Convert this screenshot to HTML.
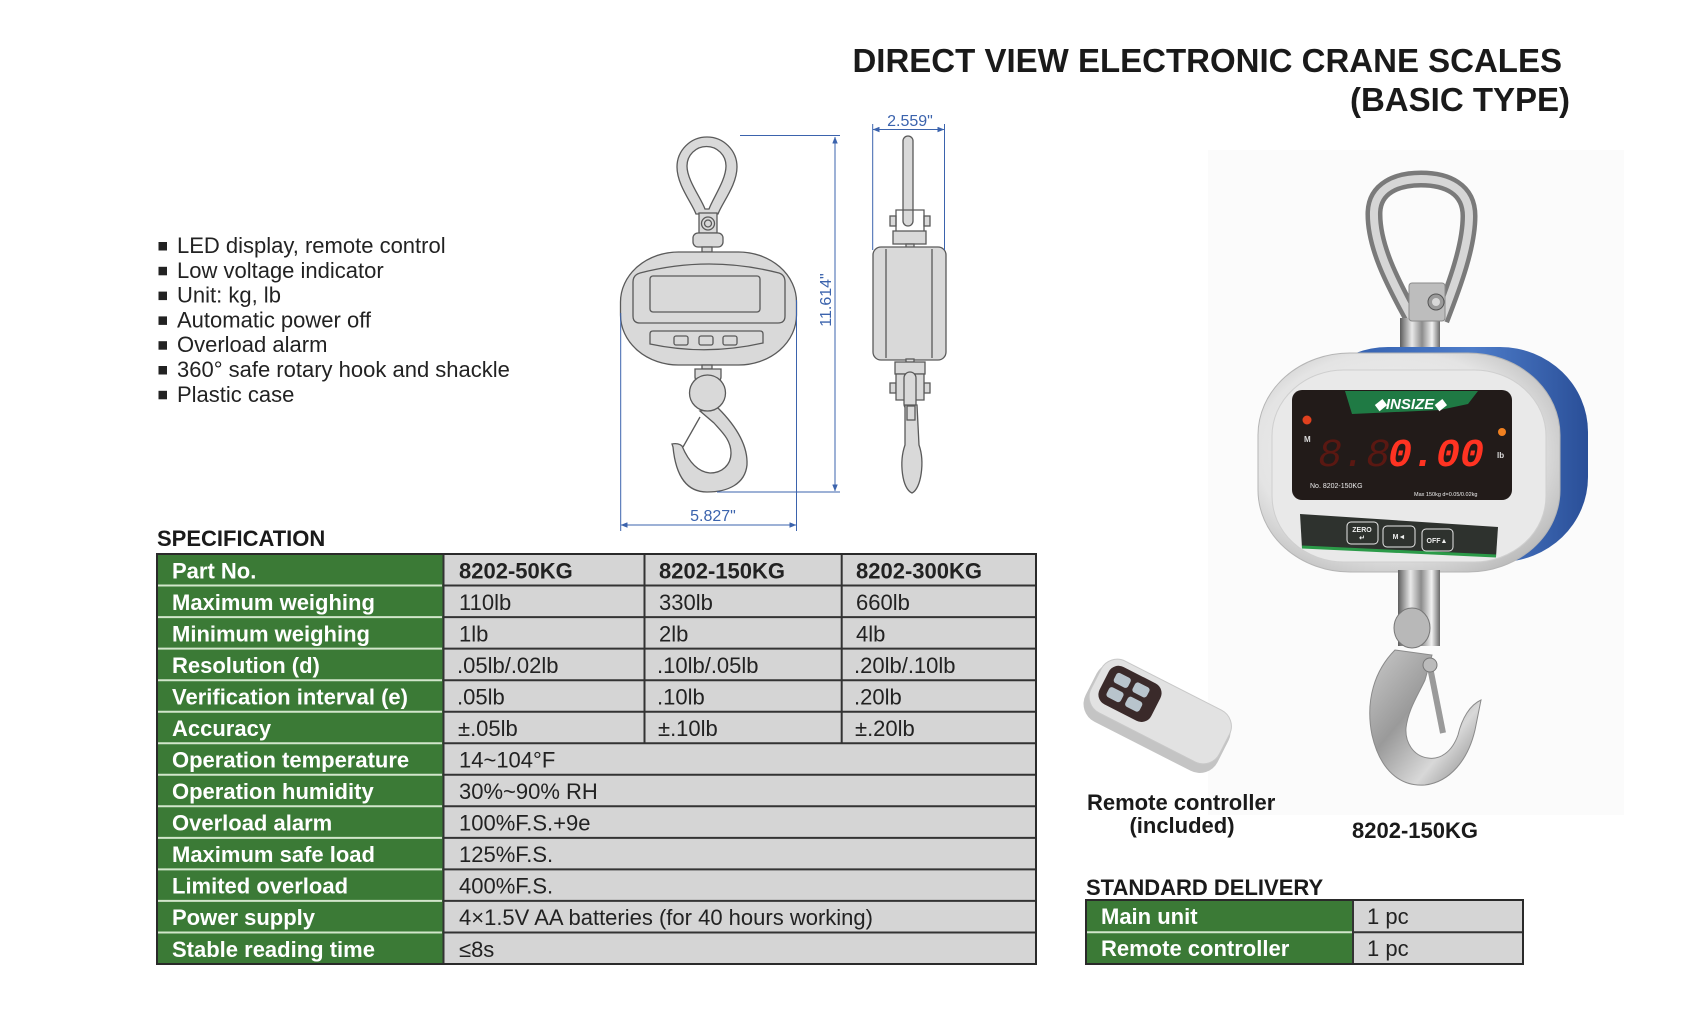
<!DOCTYPE html>
<html><head><meta charset="utf-8"><style>
html,body{margin:0;padding:0;background:#fff;}
svg{display:block;font-family:"Liberation Sans",Arial,sans-serif;}
</style></head><body>
<svg width="1701" height="1020" viewBox="0 0 1701 1020" xmlns="http://www.w3.org/2000/svg">
<defs>
<marker id="ar" viewBox="0 0 10 8" refX="9.5" refY="4" markerWidth="7" markerHeight="5.5" orient="auto-start-reverse" markerUnits="userSpaceOnUse"><path d="M0,0 L10,4 L0,8 Z" fill="#3b63ad"/></marker>
<linearGradient id="chrome" x1="0" y1="0" x2="1" y2="0"><stop offset="0" stop-color="#5d5d5d"/><stop offset=".3" stop-color="#e9e9e9"/><stop offset=".55" stop-color="#8c8c8c"/><stop offset=".8" stop-color="#f2f2f2"/><stop offset="1" stop-color="#6a6a6a"/></linearGradient>
<linearGradient id="blue" x1="0" y1="0" x2="1" y2="0"><stop offset="0" stop-color="#2a56a6"/><stop offset=".6" stop-color="#4d7cc9"/><stop offset="1" stop-color="#2a4f98"/></linearGradient>
<radialGradient id="face" cx=".45" cy=".45" r=".65"><stop offset="0" stop-color="#f5f5f5"/><stop offset=".7" stop-color="#e4e4e4"/><stop offset="1" stop-color="#b9b9b9"/></radialGradient>
<linearGradient id="hookg" x1="0" y1="0" x2="1" y2="1"><stop offset="0" stop-color="#c9c9c9"/><stop offset=".4" stop-color="#9a9a9a"/><stop offset=".7" stop-color="#d8d8d8"/><stop offset="1" stop-color="#7d7d7d"/></linearGradient>
</defs>

<!-- Title -->
<text x="1562" y="72" text-anchor="end" font-size="33" font-weight="bold" fill="#1a1a1a">DIRECT VIEW ELECTRONIC CRANE SCALES</text>
<text x="1570" y="111" text-anchor="end" font-size="33" font-weight="bold" fill="#1a1a1a">(BASIC TYPE)</text>

<!-- Bullets -->
<g font-size="22" fill="#222">
<rect x="158.5" y="242" width="8.5" height="8.5" fill="#222"/><text x="177" y="253">LED display, remote control</text>
<rect x="158.5" y="266.8" width="8.5" height="8.5" fill="#222"/><text x="177" y="277.8">Low voltage indicator</text>
<rect x="158.5" y="291.6" width="8.5" height="8.5" fill="#222"/><text x="177" y="302.6">Unit: kg, lb</text>
<rect x="158.5" y="316.4" width="8.5" height="8.5" fill="#222"/><text x="177" y="327.4">Automatic power off</text>
<rect x="158.5" y="341.2" width="8.5" height="8.5" fill="#222"/><text x="177" y="352.2">Overload alarm</text>
<rect x="158.5" y="366" width="8.5" height="8.5" fill="#222"/><text x="177" y="377">360° safe rotary hook and shackle</text>
<rect x="158.5" y="390.8" width="8.5" height="8.5" fill="#222"/><text x="177" y="401.8">Plastic case</text>
</g>

<!-- Front view drawing -->
<g fill="#d9d9d9" stroke="#5a5a5a" stroke-width="1.3">
<path fill-rule="evenodd" d="M677,167 A30,30 0 0 1 737,167 C737,185 722,203 718,214 L696,214 C692,203 677,185 677,167 Z M687,166 A19.5,19.5 0 0 1 726,166 C726,180 713,198 709,209 L705,209 C701,198 687,180 687,166 Z"/>
<rect x="699" y="213" width="18" height="20"/>
<circle cx="708" cy="223.5" r="6.5"/><circle cx="708" cy="223.5" r="3.5"/>
<rect x="693" y="233" width="30" height="14" rx="5"/>
<rect x="702" y="247" width="10" height="5"/>
<rect x="620.5" y="252" width="176" height="113" rx="58" ry="50"/>
<path d="M640,273 Q709,255 779,273 Q785,275 785,282 L785,316 Q785,323 778,323 L640,323 Q633,323 633,316 L633,282 Q633,275 640,273 Z"/>
<rect x="650" y="276" width="110" height="36" rx="3"/>
<path d="M650,334 Q650,331 653,331 L760,331 Q763,331 763,334 L763,343 Q706,356 650,344 Z"/>
<rect x="674" y="336" width="14" height="9" rx="2"/><rect x="699" y="336" width="14" height="9" rx="2"/><rect x="723" y="336" width="14" height="9" rx="2"/>
<rect x="702" y="365" width="10" height="4"/>
<path d="M695,369 L721,369 L721,377 Q721,381 716,381 L700,381 Q695,381 695,377 Z"/>
<path d="M718,408 C735,425 748,445 747,465 C745,484 728,492 707,492 C688,492 676,478 673,447 L672,444 C676,443 680,444 682,446 C688,460 697,472 710,473 C722,473 731,465 731,453 C731,440 722,432 714,423 L700,411 Z"/>
<circle cx="707.5" cy="393" r="18"/>
<line x1="700" y1="417" x2="683" y2="447"/>
</g>

<!-- Side view drawing -->
<g fill="#d9d9d9" stroke="#5a5a5a" stroke-width="1.3">
<rect x="903" y="136" width="10" height="90" rx="5"/>
<rect x="890" y="216" width="6" height="10"/><rect x="924" y="216" width="6" height="10"/>
<path d="M896,210 L924,210 L924,232 L896,232 Z" fill="none"/>
<rect x="893" y="231" width="33" height="13"/>
<rect x="906" y="244" width="8" height="4"/>
<rect x="873" y="247" width="73" height="113" rx="8"/>
<line x1="886" y1="249" x2="886" y2="358"/><line x1="932" y1="249" x2="932" y2="358"/>
<rect x="906" y="359" width="8" height="4"/>
<rect x="895" y="362" width="30" height="12"/>
<rect x="890" y="383" width="6" height="10"/><rect x="924" y="383" width="6" height="10"/>
<path d="M896,374 L924,374 L924,400 L896,400 Z"/>
<rect x="904" y="372" width="12" height="38" rx="6"/>
<path d="M905,405 L917,405 L919,445 C925,462 921,489 912,493 C902,489 899,462 905,445 Z"/>
<rect x="907" y="406" width="8" height="14" fill="none"/>
</g>

<!-- Dimensions -->
<g stroke="#3b63ad" stroke-width="1" fill="none">
<line x1="740" y1="135.5" x2="840" y2="135.5"/>
<line x1="717" y1="492" x2="840" y2="492"/>
<line x1="835" y1="137" x2="835" y2="491" marker-start="url(#ar)" marker-end="url(#ar)"/>
<line x1="620.7" y1="313" x2="620.7" y2="531"/>
<line x1="796.5" y1="300" x2="796.5" y2="531"/>
<line x1="621" y1="525" x2="796" y2="525" marker-start="url(#ar)" marker-end="url(#ar)"/>
<line x1="872.7" y1="124" x2="872.7" y2="250"/>
<line x1="944.5" y1="124" x2="944.5" y2="250"/>
<line x1="873" y1="129.5" x2="944" y2="129.5" marker-start="url(#ar)" marker-end="url(#ar)"/>
</g>
<g fill="#3b63ad" font-size="16">
<text x="910" y="126" text-anchor="middle">2.559"</text>
<text x="713" y="521" text-anchor="middle">5.827"</text>
<text x="831" y="300" text-anchor="middle" transform="rotate(-90 831 300)">11.614"</text>
</g>

<!-- SPECIFICATION -->
<text x="157" y="546" font-size="22" font-weight="bold" fill="#1a1a1a">SPECIFICATION</text>
<rect x="443" y="554" width="593" height="410" fill="#d5d5d5"/>
<rect x="157" y="554" width="286" height="410" fill="#3b7a36"/>
<g stroke="#d2e6cb" stroke-width="2">
<line x1="158" y1="585.5" x2="442" y2="585.5"/><line x1="158" y1="617.1" x2="442" y2="617.1"/><line x1="158" y1="648.6" x2="442" y2="648.6"/><line x1="158" y1="680.2" x2="442" y2="680.2"/><line x1="158" y1="711.7" x2="442" y2="711.7"/><line x1="158" y1="743.2" x2="442" y2="743.2"/><line x1="158" y1="774.8" x2="442" y2="774.8"/><line x1="158" y1="806.3" x2="442" y2="806.3"/><line x1="158" y1="837.9" x2="442" y2="837.9"/><line x1="158" y1="869.4" x2="442" y2="869.4"/><line x1="158" y1="900.9" x2="442" y2="900.9"/><line x1="158" y1="932.5" x2="442" y2="932.5"/>
</g>
<g stroke="#333" stroke-width="2">
<line x1="443" y1="585.5" x2="1036" y2="585.5"/><line x1="443" y1="617.1" x2="1036" y2="617.1"/><line x1="443" y1="648.6" x2="1036" y2="648.6"/><line x1="443" y1="680.2" x2="1036" y2="680.2"/><line x1="443" y1="711.7" x2="1036" y2="711.7"/><line x1="443" y1="743.2" x2="1036" y2="743.2"/><line x1="443" y1="774.8" x2="1036" y2="774.8"/><line x1="443" y1="806.3" x2="1036" y2="806.3"/><line x1="443" y1="837.9" x2="1036" y2="837.9"/><line x1="443" y1="869.4" x2="1036" y2="869.4"/><line x1="443" y1="900.9" x2="1036" y2="900.9"/><line x1="443" y1="932.5" x2="1036" y2="932.5"/>
<line x1="443.5" y1="554" x2="443.5" y2="964"/>
<line x1="644.5" y1="554" x2="644.5" y2="743.2"/>
<line x1="841.7" y1="554" x2="841.7" y2="743.2"/>
</g>
<rect x="157" y="554" width="879" height="410" fill="none" stroke="#2a2a2a" stroke-width="2"/>
<g font-size="22" font-weight="bold" fill="#fff">
<text x="172" y="578.3">Part No.</text>
<text x="172" y="609.8">Maximum weighing</text>
<text x="172" y="641.4">Minimum weighing</text>
<text x="172" y="672.9">Resolution (d)</text>
<text x="172" y="704.5">Verification interval (e)</text>
<text x="172" y="736">Accuracy</text>
<text x="172" y="767.5">Operation temperature</text>
<text x="172" y="799.1">Operation humidity</text>
<text x="172" y="830.6">Overload alarm</text>
<text x="172" y="862.2">Maximum safe load</text>
<text x="172" y="893.7">Limited overload</text>
<text x="172" y="925.2">Power supply</text>
<text x="172" y="956.8">Stable reading time</text>
</g>
<g font-size="22" fill="#222">
<text x="459" y="578.3" font-weight="bold">8202-50KG</text>
<text x="659" y="578.3" font-weight="bold">8202-150KG</text>
<text x="856" y="578.3" font-weight="bold">8202-300KG</text>
<text x="459" y="609.8">110lb</text><text x="659" y="609.8">330lb</text><text x="856" y="609.8">660lb</text>
<text x="459" y="641.4">1lb</text><text x="659" y="641.4">2lb</text><text x="856" y="641.4">4lb</text>
<text x="457" y="672.9">.05lb/.02lb</text><text x="657" y="672.9">.10lb/.05lb</text><text x="854" y="672.9">.20lb/.10lb</text>
<text x="457" y="704.5">.05lb</text><text x="657" y="704.5">.10lb</text><text x="854" y="704.5">.20lb</text>
<text x="458" y="736">±.05lb</text><text x="658" y="736">±.10lb</text><text x="855" y="736">±.20lb</text>
<text x="459" y="767.5">14~104°F</text>
<text x="459" y="799.1">30%~90% RH</text>
<text x="459" y="830.6">100%F.S.+9e</text>
<text x="459" y="862.2">125%F.S.</text>
<text x="459" y="893.7">400%F.S.</text>
<text x="459" y="925.2">4×1.5V AA batteries (for 40 hours working)</text>
<text x="459" y="956.8">≤8s</text>
</g>

<!-- Photo background -->
<rect x="1208" y="150" width="416" height="665" fill="#fbfbfb"/>

<!-- Crane scale photo -->
<path d="M1413,320 C1392,282 1373,245 1374,212 C1375,188 1397,179 1421,179 C1447,179 1469,189 1469,216 C1469,246 1455,284 1441,320" fill="none" stroke="#7a7a7a" stroke-width="17"/>
<path d="M1413,320 C1392,282 1373,245 1374,212 C1375,188 1397,179 1421,179 C1447,179 1469,189 1469,216 C1469,246 1455,284 1441,320" fill="none" stroke="#d6d6d6" stroke-width="8"/>
<rect x="1400" y="318" width="40" height="40" fill="url(#chrome)"/>
<rect x="1409" y="283" width="36" height="38" rx="3" fill="#bdbdbd" stroke="#8a8a8a"/>
<circle cx="1436" cy="302" r="8" fill="#9a9a9a" stroke="#555"/>
<circle cx="1436" cy="302" r="4" fill="#d8d8d8"/>
<rect x="1300" y="347" width="288" height="215" rx="88" ry="85" fill="url(#blue)"/>
<rect x="1258" y="353" width="302" height="219" rx="92" ry="82" fill="url(#face)" stroke="#b5b5b5"/>
<rect x="1272" y="370" width="274" height="192" rx="72" ry="66" fill="#e9e9e9" stroke="#cfcfcf"/>
<rect x="1292" y="390" width="220" height="110" rx="10" fill="#221b19"/>
<path d="M1345,391 L1478,391 L1468,404 L1440,410 L1352,414 Z" fill="#1f7a44"/>
<text x="1410" y="409" text-anchor="middle" font-size="15" font-weight="bold" font-style="italic" fill="#fff">◆INSIZE◆</text>
<text x="1318" y="466" font-family="Liberation Mono" font-size="40" font-style="italic" fill="#5a1812">8.8.</text>
<text x="1388" y="466" font-family="Liberation Mono" font-size="40" font-weight="bold" font-style="italic" fill="#ff3322">0.00</text>
<circle cx="1307" cy="420" r="4.5" fill="#e0401e"/>
<circle cx="1502" cy="432" r="4" fill="#f08020"/>
<text x="1304" y="442" font-size="8" font-weight="bold" fill="#ddd">M</text>
<text x="1497" y="458" font-size="8" font-weight="bold" fill="#ddd">lb</text>
<text x="1310" y="488" font-size="7" fill="#eee">No. 8202-150KG</text>
<text x="1414" y="496" font-size="5.5" fill="#eee">Max 150kg  d=0.05/0.02kg</text>
<path d="M1300,514 L1498,527 L1496,557 L1302,548 Z" fill="#2e322e"/>
<path d="M1302,547 L1496,556" stroke="#2b9a48" stroke-width="3"/>
<g fill="none" stroke="#e8e8e8" stroke-width="1">
<rect x="1347" y="522" width="31" height="22" rx="4"/>
<rect x="1383" y="526" width="32" height="21" rx="4"/>
<rect x="1422" y="529" width="31" height="22" rx="4"/>
</g>
<g font-size="7" fill="#eee" font-weight="bold" text-anchor="middle">
<text x="1362" y="532">ZERO</text><text x="1362" y="540">↵</text>
<text x="1399" y="539">M◄</text>
<text x="1437" y="543">OFF▲</text>
</g>
<rect x="1398" y="570" width="42" height="76" fill="url(#chrome)"/>
<ellipse cx="1412" cy="628" rx="18" ry="20" fill="#b8b8b8" stroke="#777"/>
<path d="M1395,650 C1375,670 1365,700 1372,735 C1380,770 1400,787 1425,785 C1450,782 1468,760 1475,730 L1481,700 C1470,705 1462,718 1458,735 C1452,752 1440,760 1428,758 C1413,756 1405,742 1406,728 C1408,710 1418,695 1425,680 L1432,655 Z" fill="url(#hookg)" stroke="#8a8a8a"/>
<path d="M1430,667 L1443,733" stroke="#9a9a9a" stroke-width="6"/>
<circle cx="1430" cy="665" r="7" fill="#bbb" stroke="#777"/>

<!-- Remote -->
<g transform="translate(1158,716) rotate(27)">
<rect x="-74" y="-30" width="148" height="64" rx="20" fill="#c4c4c4"/>
<rect x="-72" y="-34" width="144" height="58" rx="18" fill="#e2e2e2" stroke="#c8c8c8"/>
<rect x="-64" y="-28" width="58" height="42" rx="11" fill="#3a2a2a"/>
<rect x="-56" y="-21" width="16" height="11" rx="3" fill="#b8c4cc"/>
<rect x="-35" y="-21" width="16" height="11" rx="3" fill="#b8c4cc"/>
<rect x="-56" y="-5" width="16" height="11" rx="3" fill="#b8c4cc"/>
<rect x="-35" y="-5" width="16" height="11" rx="3" fill="#b8c4cc"/>
</g>

<!-- Captions -->
<g font-size="22" font-weight="bold" fill="#1a1a1a">
<text x="1087" y="810">Remote controller</text>
<text x="1182" y="833" text-anchor="middle">(included)</text>
<text x="1352" y="838">8202-150KG</text>
<text x="1086" y="895">STANDARD DELIVERY</text>
</g>

<!-- Delivery table -->
<rect x="1353" y="900" width="170" height="64" fill="#d5d5d5"/>
<rect x="1086" y="900" width="267" height="64" fill="#3b7a36"/>
<line x1="1087" y1="932.3" x2="1352" y2="932.3" stroke="#d2e6cb" stroke-width="2"/>
<line x1="1353" y1="932.3" x2="1523" y2="932.3" stroke="#333" stroke-width="2"/>
<line x1="1353" y1="900" x2="1353" y2="964" stroke="#333" stroke-width="2"/>
<rect x="1086" y="900" width="437" height="64" fill="none" stroke="#2a2a2a" stroke-width="2"/>
<g font-size="22" font-weight="bold" fill="#fff">
<text x="1101" y="924">Main unit</text>
<text x="1101" y="956">Remote controller</text>
</g>
<g font-size="22" fill="#222">
<text x="1367" y="924">1 pc</text>
<text x="1367" y="956">1 pc</text>
</g>
</svg>
</body></html>
